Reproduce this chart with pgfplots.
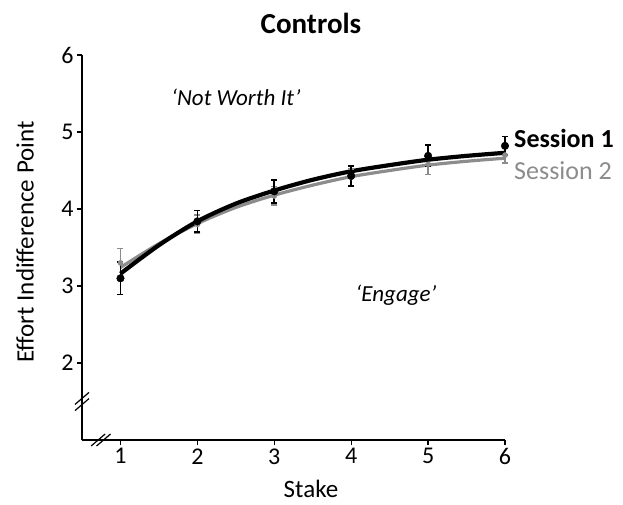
\documentclass[border=0pt]{standalone}
\usepackage{pgfplots}
\pgfplotsset{compat=1.18}
\usepackage{fontspec}
\setmainfont{Carlito}
\definecolor{sgray}{RGB}{140,140,140}
\begin{document}
\begin{tikzpicture}
\path[use as bounding box] (-82pt,-64pt) rectangle (541pt,440pt);
\begin{axis}[
  at={(0,0)}, anchor=south west,
  scale only axis, width=423pt, height=385pt,
  xmin=0.5, xmax=6, ymin=1, ymax=6,
  axis x line=bottom, axis y line=left,
  axis line style={-, line width=1.4pt},
  xtick={1,...,6}, ytick={2,...,6},
  tick align=outside, major tick length=5pt,
  tick style={line width=1.2pt, black},
  tick label style={font=\fontsize{24}{28}\selectfont},
  /pgf/number format/assume math mode=true,
  clip=false,
]
% fitted curves
\addplot[sgray, line width=3.2pt, smooth] coordinates {
 (1,3.24) (1.5,3.55) (2,3.81) (2.5,4.02) (3,4.18) (3.5,4.31) (4,4.42) (4.5,4.50) (5,4.57) (5.5,4.62) (6,4.66)};
\addplot[black, line width=4.2pt, smooth] coordinates {
 (1,3.16) (1.5,3.53) (2,3.84) (2.5,4.07) (3,4.24) (3.5,4.38) (4,4.49) (4.5,4.57) (5,4.64) (5.5,4.69) (6,4.73)};
% data points with error bars
\addplot[sgray, only marks, mark=*, mark size=2.6pt,
  error bars/.cd, y dir=both, y explicit,
  error bar style={line width=1.5pt, sgray}, error mark options={rotate=90, mark size=3pt, line width=1.5pt, sgray}]
 table[x=x, y=y, y error=e] {
 x y e
 1 3.30 0.19
 2 3.80 0.12
 3 4.17 0.12
 4 4.41 0.11
 5 4.58 0.13
 6 4.70 0.10
 };
\addplot[black, only marks, mark=*, mark size=3.8pt,
  error bars/.cd, y dir=both, y explicit,
  error bar style={line width=1.6pt, black}, error mark options={rotate=90, mark size=3pt, line width=1.6pt, black}]
 table[x=x, y=y, y error=e] {
 x y e
 1 3.10 0.21
 2 3.84 0.14
 3 4.23 0.15
 4 4.43 0.13
 5 4.69 0.14
 6 4.82 0.12
 };
% axis break marks
\draw[line width=1.2pt] ([shift={(-7pt,-6pt)}]axis cs:0.5,1.46) -- ([shift={(7pt,6pt)}]axis cs:0.5,1.46);
\draw[line width=1.2pt] ([shift={(-7pt,-6pt)}]axis cs:0.5,1.54) -- ([shift={(7pt,6pt)}]axis cs:0.5,1.54);
\draw[line width=1.2pt] ([shift={(-7pt,-6pt)}]axis cs:0.71,1) -- ([shift={(7pt,6pt)}]axis cs:0.71,1);
\draw[line width=1.2pt] ([shift={(-7pt,-6pt)}]axis cs:0.78,1) -- ([shift={(7pt,6pt)}]axis cs:0.78,1);
\end{axis}
\node[font=\fontsize{29}{34}\selectfont\bfseries] at (229pt,417pt) {Controls};
\node[font=\fontsize{23}{27}\selectfont\itshape] at (154pt,343pt) {‘Not Worth It’};
\node[font=\fontsize{23}{27}\selectfont\itshape] at (314pt,145pt) {‘Engage’};
\node[font=\fontsize{26}{30}\selectfont\bfseries, anchor=west, inner sep=0pt] at (432pt,302pt) {Session 1};
\node[font=\fontsize{26}{30}\selectfont, text=sgray, anchor=west, inner sep=0pt] at (432pt,269pt) {Session 2};
\node[font=\fontsize{25}{29}\selectfont, anchor=base, inner sep=0pt] at (229pt,-57.5pt) {Stake};
\node[font=\fontsize{25}{29}\selectfont, rotate=90] at (-57pt,198pt) {Effort Indifference Point};
\end{tikzpicture}
\end{document}
